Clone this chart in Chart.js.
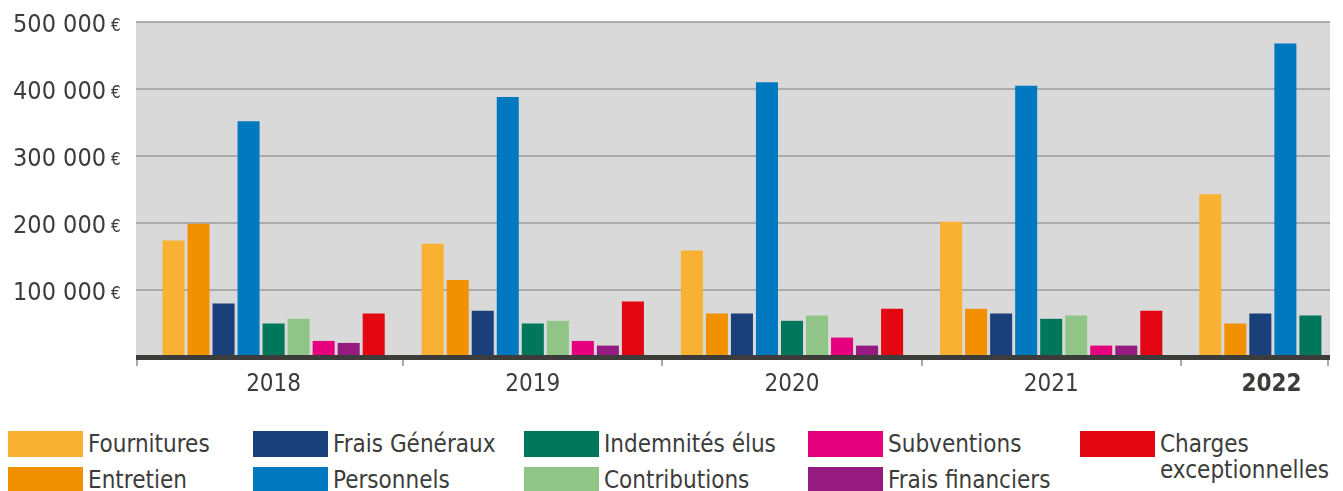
<!DOCTYPE html>
<html lang="fr">
<head>
<meta charset="utf-8">
<script src="https://cdn.jsdelivr.net/npm/chart.js@4/dist/chart.umd.min.js"></script>
<style>
  html, body { margin: 0; padding: 0; background: #ffffff; }
  body { width: 1343px; height: 491px; position: relative; overflow: hidden;
         font-family: "DejaVu Sans Condensed", "DejaVu Sans", sans-serif; font-stretch: condensed; color: #3c3c3b; }
  #wrap { position: absolute; left: 0; top: 0; width: 1330px; height: 400px; overflow: hidden; }
  #c { display: block; }
  .lg { position: absolute; display: flex; align-items: flex-start; font-size: 24px; line-height: 26px; white-space: nowrap; }
  .sw { width: 75px; height: 26px; margin-right: 5px; flex: none; }
</style>
</head>
<body>
<div id="wrap"><canvas id="c" width="1440" height="400"></canvas></div>
<div id="legend"></div>
<script>
// ---- data ----
const years = ['2018', '2019', '2020', '2021', '2022'];
const yTicks = [100000, 200000, 300000, 400000, 500000];
const fournitures     = [174000, 169000, 159000, 202000, 243000];
const entretien       = [199000, 115000,  65000,  72000,  50000];
const fraisGeneraux   = [ 80000,  69000,  65000,  65000,  65000];
const personnels      = [352000, 388000, 410000, 405000, 468000];
const indemnites      = [ 50000,  50000,  54000,  57000,  62000];
const contributions   = [ 57000,  54000,  62000,  62000,   null];
const subventions     = [ 24000,  24000,  29000,  17000,   null];
const fraisFinanciers = [ 21000,  17000,  17000,  17000,   null];
const charges         = [ 65000,  83000,  72000,  69000,   null];

const seriesNames  = ['Fournitures', 'Entretien', 'Frais Généraux', 'Personnels', 'Indemnités élus',
                      'Contributions', 'Subventions', 'Frais financiers', 'Charges exceptionnelles'];
const seriesValues = [fournitures, entretien, fraisGeneraux, personnels, indemnites,
                      contributions, subventions, fraisFinanciers, charges];
const seriesColors = ['#f8b133', '#f29100', '#1b3f7a', '#0079c1', '#00765a',
                      '#91c587', '#e5007d', '#951b81', '#e30613'];

// ---- layout / style ----
const FONT = '"DejaVu Sans Condensed", "DejaVu Sans", sans-serif';
const TEXT = '#3c3c3b';
const GRID = '#ababab';
const plotLeft = 136, clipRight = 1330;

const decor = {
  id: 'decor',
  beforeDraw(chart) {
    const { ctx, chartArea: a } = chart;
    ctx.save();
    ctx.fillStyle = '#d9d9d9';
    ctx.fillRect(plotLeft, a.top, clipRight - plotLeft, a.bottom - a.top);
    ctx.restore();
  },
  afterDraw(chart) {
    const { ctx, chartArea: a } = chart;
    const xs = chart.scales.x, ys = chart.scales.y;
    ctx.save();
    // axis band
    ctx.fillStyle = '#3c3c3b';
    ctx.fillRect(plotLeft, a.bottom - 2, clipRight - plotLeft, 5);
    // category separators
    const bounds = [plotLeft + 1];
    for (let i = 1; i < years.length; i++) {
      bounds.push(Math.round((xs.getPixelForValue(i - 1) + xs.getPixelForValue(i)) / 2));
    }
    bounds.push(clipRight - 2);
    ctx.strokeStyle = GRID; ctx.lineWidth = 2;
    bounds.forEach(x => {
      ctx.beginPath(); ctx.moveTo(x, a.bottom + 3); ctx.lineTo(x, a.bottom + 9); ctx.stroke();
    });
    // x labels
    ctx.fillStyle = TEXT; ctx.textAlign = 'center'; ctx.textBaseline = 'alphabetic';
    years.forEach((y, i) => {
      let x = xs.getPixelForValue(i);
      if (i === years.length - 1) {
        ctx.font = 'bold 24px ' + FONT;
        x = (bounds[i] + clipRight) / 2 + 16;
      } else {
        ctx.font = '24px ' + FONT;
      }
      ctx.fillText(y, x, a.bottom + 34);
    });
    // y labels
    yTicks.forEach(v => {
      const py = ys.getPixelForValue(v);
      ctx.textAlign = 'right';
      ctx.font = '25px ' + FONT;
      ctx.fillText(v.toLocaleString('fr-FR').replace(/\s/g, ' '), 106, py + 10);
      ctx.textAlign = 'left';
      ctx.font = '17px ' + FONT;
      ctx.fillText('€', 111, py + 9);
    });
    ctx.restore();
  }
};

new Chart(document.getElementById('c'), {
  type: 'bar',
  data: {
    labels: years,
    datasets: seriesNames.map((n, i) => ({
      label: n, data: seriesValues[i], backgroundColor: seriesColors[i],
      borderWidth: 0, barPercentage: 0.88, categoryPercentage: 0.869
    }))
  },
  options: {
    responsive: false, animation: false,
    layout: { padding: { top: 22, left: 0, right: 0, bottom: 0 } },
    plugins: { legend: { display: false }, tooltip: { enabled: false } },
    scales: {
      x: {
        grid: { display: false }, border: { display: false },
        ticks: { display: false },
        afterFit(s) { s.height = 43; }
      },
      y: {
        min: 0, max: 500000,
        ticks: { display: false, stepSize: 100000 },
        border: { display: false },
        grid: { color: GRID, lineWidth: 2, drawTicks: true, tickLength: 8 },
        afterFit(s) { s.width = 144; }
      }
    }
  },
  plugins: [decor]
});

// ---- legend (HTML) ----
const legendCols = [[0, 1], [2, 3], [4, 5], [6, 7], [8]];
const colLeft = [8, 253, 524, 808, 1080];
const rowTop = [431, 467];
const lg = document.getElementById('legend');
legendCols.forEach((col, c) => {
  col.forEach((si, r) => {
    const d = document.createElement('div');
    d.className = 'lg';
    d.style.left = colLeft[c] + 'px';
    d.style.top = rowTop[r] + 'px';
    const sw = document.createElement('div');
    sw.className = 'sw';
    sw.style.background = seriesColors[si];
    const t = document.createElement('div');
    if (si === 8) { t.innerHTML = 'Charges<br>exceptionnelles'; } else { t.textContent = seriesNames[si]; }
    d.appendChild(sw); d.appendChild(t);
    lg.appendChild(d);
  });
});
</script>
</body>
</html>
